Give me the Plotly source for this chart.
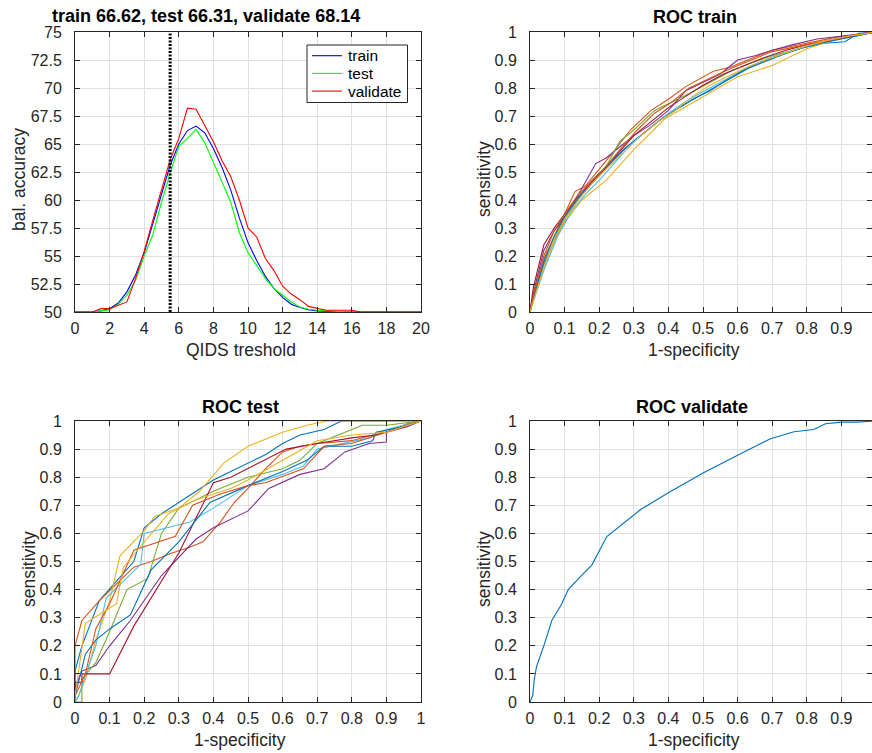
import plotly.graph_objects as go

# ---------------- data ----------------
qids = [0, 0.5, 1, 1.5, 2, 2.5, 3, 3.5, 4, 4.5, 5, 5.5, 6, 6.5, 7, 7.5, 8, 8.5, 9, 9.5,
        10, 10.5, 11, 11.5, 12, 12.5, 13, 13.5, 14, 14.5, 15, 15.5, 16, 16.5, 17, 17.5,
        18, 18.5, 19, 19.5, 20]
acc_train = [50, 50, 50, 50.1, 50.3, 50.8, 51.8, 53.3, 55.3, 57.9,
             60.6, 63.1, 65.0, 66.2, 66.6, 66.0, 64.6, 62.9, 60.9, 58.4,
             56.2, 54.6, 53.2, 52.1, 51.3, 50.7, 50.4, 50.2, 50.1, 50.05,
             50.03, 50.02, 50.01, 50, 50, 50, 50, 50, 50, 50, 50]
acc_test = [50, 50, 50, 50.1, 50.2, 50.7, 51.5, 52.8, 55.0, 56.9,
            59.8, 62.4, 64.8, 65.5, 66.3, 65.1, 63.4, 61.6, 59.8, 57.1,
            55.3, 54.2, 53.0, 52.1, 51.5, 50.9, 50.45, 50.25, 50.15, 50.1,
            50.05, 50.03, 50.02, 50.01, 50, 50, 50, 50, 50, 50, 50]
acc_validate = [50, 50, 50, 50.3, 50.3, 50.6, 50.9, 53.0, 55.4, 58.2,
                61.0, 63.6, 65.5, 68.2, 68.1, 66.7, 65.2, 63.5, 62.1, 60.0,
                57.5, 56.7, 54.8, 53.7, 52.3, 51.6, 51.1, 50.5, 50.3, 50.15,
                50.15, 50.15, 50.15, 50, 50, 50, 50, 50, 50, 50, 50]
best_threshold = 5.5
acc_range = [50, 75]
series_names = ["train", "test", "validate"]
series_colors = ["#0000FF", "#00FF00", "#FF0000"]

acc_ticks = [50, 52.5, 55, 57.5, 60, 62.5, 65, 67.5, 70, 72.5, 75]
acc_ticktext = ["50", "52.5", "55", "57.5", "60", "62.5", "65", "67.5", "70", "72.5", "75"]
qids_ticks = [0, 2, 4, 6, 8, 10, 12, 14, 16, 18, 20]
roc_ticks = [0, 0.1, 0.2, 0.3, 0.4, 0.5, 0.6, 0.7, 0.8, 0.9, 1]
roc_ticktext = ["0", "0.1", "0.2", "0.3", "0.4", "0.5", "0.6", "0.7", "0.8", "0.9", "1"]

roc_train_fpr = [
    [0, 0.01, 0.04, 0.08, 0.11, 0.15, 0.19, 0.23, 0.28, 0.33, 0.38, 0.43, 0.48, 0.53, 0.58, 0.63, 0.68, 0.73, 0.79, 0.85, 0.91, 0.95, 1],
    [0, 0.01, 0.04, 0.07, 0.1, 0.13, 0.16, 0.2, 0.24, 0.29, 0.35, 0.4, 0.45, 0.53, 0.58, 0.64, 0.7, 0.76, 0.82, 0.88, 0.94, 1],
    [0, 0.01, 0.04, 0.07, 0.1, 0.15, 0.22, 0.3, 0.39, 0.5, 0.6, 0.7, 0.8, 0.9, 0.95, 1],
    [0, 0.01, 0.04, 0.07, 0.1, 0.14, 0.19, 0.22, 0.26, 0.3, 0.35, 0.4, 0.45, 0.5, 0.55, 0.6, 0.65, 0.7, 0.76, 0.83, 0.9, 0.95, 1],
    [0, 0.01, 0.04, 0.07, 0.1, 0.14, 0.18, 0.22, 0.26, 0.3, 0.36, 0.41, 0.46, 0.52, 0.58, 0.64, 0.7, 0.76, 0.82, 0.88, 0.94, 1],
    [0, 0.01, 0.04, 0.08, 0.12, 0.16, 0.2, 0.25, 0.3, 0.35, 0.4, 0.46, 0.52, 0.58, 0.64, 0.7, 0.76, 0.82, 0.88, 0.94, 1],
    [0, 0.01, 0.04, 0.07, 0.1, 0.13, 0.17, 0.21, 0.25, 0.3, 0.35, 0.4, 0.45, 0.5, 0.56, 0.62, 0.68, 0.74, 0.8, 0.87, 0.93, 1],
    [0, 0.01, 0.04, 0.07, 0.1, 0.14, 0.18, 0.22, 0.27, 0.32, 0.37, 0.42, 0.47, 0.52, 0.57, 0.62, 0.67, 0.72, 0.78, 0.84, 0.9, 0.95, 1],
    [0, 0.01, 0.04, 0.07, 0.1, 0.14, 0.18, 0.22, 0.26, 0.31, 0.36, 0.41, 0.46, 0.52, 0.58, 0.64, 0.7, 0.76, 0.82, 0.88, 0.94, 1],
    [0, 0.01, 0.04, 0.07, 0.1, 0.14, 0.18, 0.22, 0.27, 0.32, 0.37, 0.42, 0.47, 0.52, 0.57, 0.62, 0.68, 0.74, 0.8, 0.86, 0.92, 1],
]
roc_train_tpr = [
    [0, 0.05, 0.17, 0.28, 0.35, 0.42, 0.48, 0.53, 0.59, 0.64, 0.69, 0.73, 0.765, 0.80, 0.835, 0.87, 0.895, 0.92, 0.945, 0.96, 0.965, 0.995, 1],
    [0, 0.06, 0.19, 0.27, 0.35, 0.43, 0.45, 0.51, 0.57, 0.65, 0.72, 0.76, 0.805, 0.86, 0.875, 0.905, 0.935, 0.95, 0.965, 0.98, 0.99, 1],
    [0, 0.04, 0.15, 0.25, 0.32, 0.40, 0.47, 0.58, 0.69, 0.77, 0.84, 0.88, 0.94, 0.98, 0.99, 1],
    [0, 0.07, 0.22, 0.29, 0.34, 0.42, 0.53, 0.55, 0.59, 0.63, 0.67, 0.72, 0.79, 0.82, 0.85, 0.90, 0.915, 0.935, 0.955, 0.975, 0.985, 0.99, 1],
    [0, 0.05, 0.18, 0.27, 0.33, 0.41, 0.46, 0.52, 0.61, 0.65, 0.72, 0.75, 0.78, 0.82, 0.86, 0.89, 0.915, 0.935, 0.955, 0.975, 0.99, 1],
    [0, 0.04, 0.15, 0.27, 0.36, 0.42, 0.47, 0.54, 0.61, 0.66, 0.71, 0.76, 0.80, 0.84, 0.88, 0.91, 0.935, 0.955, 0.975, 0.985, 1],
    [0, 0.09, 0.24, 0.30, 0.35, 0.40, 0.45, 0.50, 0.56, 0.63, 0.68, 0.73, 0.77, 0.81, 0.85, 0.88, 0.91, 0.935, 0.955, 0.97, 0.985, 1],
    [0, 0.05, 0.18, 0.27, 0.34, 0.41, 0.47, 0.52, 0.58, 0.63, 0.68, 0.72, 0.76, 0.79, 0.83, 0.865, 0.895, 0.915, 0.94, 0.96, 0.975, 0.99, 1],
    [0, 0.06, 0.20, 0.29, 0.35, 0.42, 0.47, 0.52, 0.58, 0.65, 0.71, 0.75, 0.80, 0.835, 0.87, 0.90, 0.93, 0.945, 0.96, 0.975, 0.99, 1],
    [0, 0.04, 0.16, 0.26, 0.33, 0.40, 0.46, 0.51, 0.57, 0.63, 0.68, 0.72, 0.77, 0.81, 0.84, 0.87, 0.90, 0.925, 0.95, 0.97, 0.985, 1],
]

roc_test_fpr = [
    [0, 0, 0.02, 0.07, 0.12, 0.17, 0.2, 0.25, 0.3, 0.35, 0.4, 0.45, 0.5, 0.55, 0.6, 0.65, 0.72, 0.77, 1],
    [0, 0, 0.02, 0.07, 0.12, 0.17, 0.22, 0.28, 0.33, 0.37, 0.42, 0.46, 0.5, 0.55, 0.6, 0.65, 0.7, 0.8, 0.86, 0.9, 0.96, 1],
    [0, 0.01, 0.03, 0.06, 0.1, 0.13, 0.2, 0.23, 0.3, 0.36, 0.43, 0.5, 0.6, 0.67, 0.73, 1],
    [0, 0, 0.02, 0.06, 0.1, 0.16, 0.25, 0.35, 0.4, 0.5, 0.56, 0.65, 0.72, 0.78, 0.85, 0.9, 0.9, 0.96, 1],
    [0, 0.02, 0.02, 0.06, 0.1, 0.15, 0.21, 0.25, 0.3, 0.4, 0.5, 0.6, 0.65, 0.7, 0.8, 0.83, 0.9, 1],
    [0, 0.01, 0.04, 0.06, 0.09, 0.14, 0.19, 0.2, 0.33, 0.4, 0.5, 0.6, 0.66, 0.7, 0.85, 0.9, 1],
    [0, 0, 0.02, 0.02, 0.1, 0.17, 0.3, 0.4, 0.45, 0.53, 0.61, 0.7, 0.8, 0.87, 0.96, 1],
    [0, 0, 0.03, 0.06, 0.1, 0.16, 0.22, 0.3, 0.39, 0.5, 0.6, 0.67, 0.72, 0.8, 0.86, 0.87, 0.95, 1],
    [0, 0, 0.03, 0.06, 0.1, 0.17, 0.29, 0.34, 0.42, 0.5, 0.55, 0.66, 0.72, 0.8, 0.9, 0.95, 1],
    [0, 0, 0.03, 0.08, 0.12, 0.14, 0.18, 0.27, 0.35, 0.45, 0.5, 0.6, 0.7, 0.8, 0.9, 1],
]
roc_test_tpr = [
    [0, 0.11, 0.20, 0.36, 0.43, 0.50, 0.62, 0.67, 0.71, 0.75, 0.79, 0.82, 0.85, 0.88, 0.92, 0.95, 0.97, 1.0, 1.0],
    [0, 0.2, 0.29, 0.36, 0.42, 0.48, 0.50, 0.53, 0.55, 0.57, 0.64, 0.71, 0.76, 0.83, 0.89, 0.91, 0.92, 0.93, 0.95, 0.96, 0.99, 1],
    [0, 0.02, 0.08, 0.22, 0.36, 0.52, 0.61, 0.66, 0.69, 0.75, 0.85, 0.91, 0.96, 0.985, 1.0, 1.0],
    [0, 0.05, 0.11, 0.13, 0.20, 0.29, 0.45, 0.58, 0.62, 0.68, 0.76, 0.81, 0.83, 0.89, 0.92, 0.925, 0.96, 0.98, 1],
    [0, 0, 0.08, 0.14, 0.25, 0.40, 0.44, 0.60, 0.69, 0.75, 0.80, 0.83, 0.86, 0.92, 0.97, 0.985, 0.985, 1],
    [0, 0.02, 0.13, 0.2, 0.37, 0.43, 0.49, 0.6, 0.64, 0.69, 0.77, 0.81, 0.84, 0.9, 0.94, 0.97, 1],
    [0, 0.07, 0.07, 0.1, 0.1, 0.27, 0.53, 0.78, 0.80, 0.85, 0.90, 0.92, 0.94, 0.95, 0.985, 1],
    [0, 0.02, 0.17, 0.22, 0.26, 0.31, 0.47, 0.57, 0.71, 0.77, 0.82, 0.86, 0.91, 0.91, 0.93, 0.96, 0.98, 1],
    [0, 0.02, 0.1, 0.26, 0.35, 0.54, 0.59, 0.70, 0.74, 0.77, 0.78, 0.83, 0.91, 0.92, 0.96, 0.98, 1],
    [0, 0.02, 0.28, 0.32, 0.35, 0.48, 0.54, 0.67, 0.72, 0.76, 0.79, 0.86, 0.93, 0.95, 0.96, 1],
]

roc_validate_fpr = [0, 0.008, 0.012, 0.019, 0.04, 0.063, 0.09, 0.111, 0.145, 0.179, 0.222, 0.27,
                    0.32, 0.4, 0.5, 0.6, 0.695, 0.763, 0.82, 0.854, 0.9, 0.946, 1]
roc_validate_tpr = [0, 0.024, 0.077, 0.127, 0.2, 0.29, 0.345, 0.401, 0.445, 0.488, 0.589, 0.635,
                    0.685, 0.745, 0.815, 0.878, 0.937, 0.962, 0.97, 0.99, 0.996, 0.996, 1]

matlab_colors = ["#0072BD", "#D95319", "#EDB120", "#7E2F8E", "#77AC30", "#4DBEEE", "#A2142F"]

# ---------------- figure ----------------
W, H = 872, 753
FONT = "Liberation Sans, Arial, Helvetica, sans-serif"
AX = "#262626"
GRID = "#e0e0e0"

fig = go.Figure()

for name, vals, col in zip(series_names, [acc_train, acc_test, acc_validate], series_colors):
    fig.add_trace(go.Scatter(x=qids, y=vals, mode="lines", name=name, showlegend=False,
                             line=dict(color=col, width=1.1), xaxis="x", yaxis="y"))
fig.add_trace(go.Scatter(x=[best_threshold, best_threshold], y=acc_range, mode="lines",
                         showlegend=False, line=dict(color="black", width=3, dash="2px,1.5px"),
                         xaxis="x", yaxis="y"))

for i, (fx, ty) in enumerate(zip(roc_train_fpr, roc_train_tpr)):
    fig.add_trace(go.Scatter(x=fx, y=ty, mode="lines", showlegend=False,
                             line=dict(color=matlab_colors[i % 7], width=1.1),
                             xaxis="x2", yaxis="y2"))
for i, (fx, ty) in enumerate(zip(roc_test_fpr, roc_test_tpr)):
    fig.add_trace(go.Scatter(x=fx, y=ty, mode="lines", showlegend=False,
                             line=dict(color=matlab_colors[i % 7], width=1.1),
                             xaxis="x3", yaxis="y3"))
fig.add_trace(go.Scatter(x=roc_validate_fpr, y=roc_validate_tpr, mode="lines", showlegend=False,
                         line=dict(color=matlab_colors[0], width=1.1), xaxis="x4", yaxis="y4"))


def px_x(p):
    return p / W


def px_y(p):
    return 1 - p / H


def axis(domain, rng, tickvals, ticktext, anchor, standoff):
    return dict(domain=domain, range=rng, anchor=anchor, tickmode="array",
                tickvals=tickvals, ticktext=ticktext, ticks="inside", ticklen=5,
                tickcolor=AX, tickwidth=1, showline=True, linecolor=AX, linewidth=1,
                mirror="allticks", showgrid=True, gridcolor=GRID, gridwidth=1,
                zeroline=False, tickfont=dict(family=FONT, size=16, color=AX),
                ticklabelstandoff=standoff, automargin=False, fixedrange=True)


left_dom = [px_x(75), px_x(421)]
right_dom = [px_x(530), 1.0]
top_dom = [px_y(312), px_y(32)]
bot_dom = [px_y(702), px_y(421)]
right_max = (872 - 530) / (876 - 530)

fig.update_layout(
    width=W, height=H, autosize=False,
    margin=dict(l=0, r=0, t=0, b=0, pad=0, autoexpand=False),
    paper_bgcolor="white", plot_bgcolor="white",
    font=dict(family=FONT, color=AX),
    xaxis=axis(left_dom, [0, 20], qids_ticks, [str(v) for v in qids_ticks], "y", 2),
    yaxis=axis(top_dom, acc_range, acc_ticks, acc_ticktext, "x", 9),
    xaxis2=axis(right_dom, [0, right_max], roc_ticks, roc_ticktext, "y2", 2),
    yaxis2=axis(top_dom, [0, 1], roc_ticks, roc_ticktext, "x2", 9),
    xaxis3=axis(left_dom, [0, 1], roc_ticks, roc_ticktext, "y3", 2),
    yaxis3=axis(bot_dom, [0, 1], roc_ticks, roc_ticktext, "x3", 9),
    xaxis4=axis(right_dom, [0, right_max], roc_ticks, roc_ticktext, "y4", 2),
    yaxis4=axis(bot_dom, [0, 1], roc_ticks, roc_ticktext, "x4", 9),
    showlegend=False,
)

# legend box (drawn like MATLAB's)
shapes = [dict(type="rect", xref="paper", yref="paper",
               x0=px_x(307), x1=px_x(407.5), y0=px_y(102.5), y1=px_y(45),
               line=dict(color=AX, width=1), fillcolor="white", layer="above")]
leg_rows = [55.7, 73.4, 91.1]
annots = []
for name, col, ry in zip(series_names, series_colors, leg_rows):
    shapes.append(dict(type="line", xref="paper", yref="paper",
                       x0=px_x(312), x1=px_x(342), y0=px_y(ry), y1=px_y(ry),
                       line=dict(color=col, width=1.1), layer="above"))
    annots.append(dict(text=name, x=px_x(345.5), y=px_y(ry), xanchor="left", yanchor="middle",
                       font=dict(family=FONT, size=15.5, color="#000000")))

title_font = dict(family=FONT, size=18, color="#000000")
label_font = dict(family=FONT, size=17.5, color=AX)
annots += [
    dict(text="<b>train 66.62, test 66.31, validate 68.14</b>", x=px_x(50), y=px_y(16),
         xanchor="left", yanchor="middle", font=title_font),
    dict(text="<b>ROC train</b>", x=px_x(695), y=px_y(17), xanchor="center", yanchor="middle", font=title_font),
    dict(text="<b>ROC test</b>", x=px_x(241), y=px_y(407), xanchor="center", yanchor="middle", font=title_font),
    dict(text="<b>ROC validate</b>", x=px_x(692), y=px_y(407), xanchor="center", yanchor="middle", font=title_font),
    dict(text="QIDS treshold", x=px_x(241), y=px_y(350), xanchor="center", yanchor="middle", font=label_font),
    dict(text="1-specificity", x=px_x(694), y=px_y(350), xanchor="center", yanchor="middle", font=label_font),
    dict(text="1-specificity", x=px_x(240), y=px_y(740), xanchor="center", yanchor="middle", font=label_font),
    dict(text="1-specificity", x=px_x(694), y=px_y(740), xanchor="center", yanchor="middle", font=label_font),
    dict(text="bal. accuracy", x=px_x(19), y=px_y(180), textangle=-90, xanchor="center", yanchor="middle", font=label_font),
    dict(text="sensitivity", x=px_x(484), y=px_y(179), textangle=-90, xanchor="center", yanchor="middle", font=label_font),
    dict(text="sensitivity", x=px_x(29), y=px_y(569), textangle=-90, xanchor="center", yanchor="middle", font=label_font),
    dict(text="sensitivity", x=px_x(484), y=px_y(569), textangle=-90, xanchor="center", yanchor="middle", font=label_font),
]
for a in annots:
    a.update(xref="paper", yref="paper", showarrow=False)
fig.update_layout(annotations=annots, shapes=shapes)

fig.write_html("out.html", config={"displayModeBar": False})
